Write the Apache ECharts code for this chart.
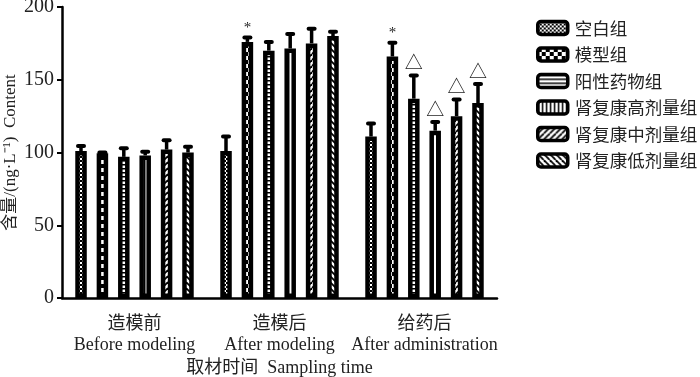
<!DOCTYPE html>
<html>
<head>
<meta charset="utf-8">
<script src="https://cdn.jsdelivr.net/npm/echarts@6/dist/echarts.min.js"></script>
<style>
    html, body { margin: 0; padding: 0; background: #fff; }
    #chart { width: 700px; height: 377px; }
</style>
</head>
<body>
<div id="chart"></div>
<script>
    // data
    var catCn = ['造模前', '造模后', '给药后']
    var catEn = ['Before modeling', 'After modeling', 'After administration']
    var groupNames = ['空白组', '模型组', '阳性药物组', '肾复康高剂量组', '肾复康中剂量组', '肾复康低剂量组']

    var blankMean = [101, 101, 111]
    var modelMean = [99.5, 176, 166]
    var positiveMean = [97, 170, 137]
    var highMean = [98, 171.5, 115]
    var midMean = [102, 175, 125]
    var lowMean = [100, 180, 134]

    var blankErr = [3.5, 10, 9]
    var modelErr = [0.5, 3, 9.5]
    var positiveErr = [6, 6, 16]
    var highErr = [2.5, 10, 6]
    var midErr = [6.5, 10, 11.5]
    var lowErr = [4, 3, 13]

    var blankMark = ['', '', '']
    var modelMark = ['', '*', '*']
    var positiveMark = ['', '', '△']
    var highMark = ['', '', '△']
    var midMark = ['', '', '△']
    var lowMark = ['', '', '△']

    var yTicks = [0, 50, 100, 150, 200]

    var means = [blankMean, modelMean, positiveMean, highMean, midMean, lowMean]
    var errs = [blankErr, modelErr, positiveErr, highErr, midErr, lowErr]
    var marks = [blankMark, modelMark, positiveMark, highMark, midMark, lowMark]

    var serif = '"Times New Roman","Liberation Serif","Noto Sans CJK SC",serif'
    var cjk = '"Noto Sans CJK SC",sans-serif'

    // fill patterns
    function makePattern(kind) {
        var c = document.createElement('canvas')
        var s = 6
        if (kind === 'fine') s = 4
        if (kind === 'checker') s = 8
        if (kind === 'hline' || kind === 'vline') s = 4
        c.width = s
        c.height = s
        var ctx = c.getContext('2d')
        ctx.fillStyle = '#fff'
        ctx.fillRect(0, 0, s, s)
        ctx.fillStyle = '#000'
        ctx.strokeStyle = '#000'
        if (kind === 'fine') {
            ctx.fillRect(0, 0, 2, 2)
            ctx.fillRect(2, 2, 2, 2)
        } else if (kind === 'checker') {
            ctx.fillRect(0, 0, 4, 4)
            ctx.fillRect(4, 4, 4, 4)
        } else if (kind === 'hline') {
            ctx.fillRect(0, 0, s, 1.5)
        } else if (kind === 'vline') {
            ctx.fillRect(0, 0, 1.5, s)
        } else {
            ctx.lineWidth = 1.8
            for (var k = -1; k <= 1; k++) {
                ctx.beginPath()
                if (kind === 'fwd') {
                    ctx.moveTo(k * s, s)
                    ctx.lineTo(k * s + s, 0)
                } else {
                    ctx.moveTo(k * s, 0)
                    ctx.lineTo(k * s + s, s)
                }
                ctx.stroke()
            }
        }
        return { image: c, repeat: 'repeat' }
    }

    var patterns = ['fine', 'checker', 'hline', 'vline', 'fwd', 'back'].map(makePattern)

    var barWidth = 11.5
    var barBorder = 4.5
    var pitch = 21.4

    var series = groupNames.map(function (name, i) {
        return {
            name: name,
            type: 'bar',
            barWidth: barWidth,
            barGap: '86%',
            data: means[i],
            itemStyle: {
                color: patterns[i],
                borderColor: '#000',
                borderWidth: barBorder
            },
            emphasis: { disabled: true },
            animation: false
        }
    })

    var errData = []
    for (var i = 0; i < groupNames.length; i++) {
        for (var j = 0; j < catCn.length; j++) {
            errData.push([j, i, means[i][j], errs[i][j], marks[i][j]])
        }
    }

    series.push({
        type: 'custom',
        data: errData,
        z: 5,
        animation: false,
        renderItem: function (params, api) {
            var cx = api.coord([api.value(0), 0])[0] + (api.value(1) - 2.5) * pitch
            var yBase = api.coord([api.value(0), api.value(2)])[1]
            var yTop = api.coord([api.value(0), api.value(2) + api.value(3)])[1]
            var mark = errData[params.dataIndex][4]
            var children = [
                { type: 'line', shape: { x1: cx, y1: yBase, x2: cx, y2: yTop }, style: { stroke: '#000', lineWidth: 3.5 } },
                { type: 'line', shape: { x1: cx - 3, y1: yTop, x2: cx + 3, y2: yTop }, style: { stroke: '#000', lineWidth: 4, lineCap: 'round' } }
            ]
            if (mark === '*') {
                children.push({ type: 'text', x: cx, y: yTop - 2, style: { text: '*', fontSize: 15, fontFamily: serif, fill: '#222', align: 'center', verticalAlign: 'bottom' } })
            } else if (mark) {
                children.push({ type: 'text', x: cx, y: yTop - 4, style: { text: mark, fontSize: 18, fontFamily: cjk, fill: '#222', align: 'center', verticalAlign: 'bottom' } })
            }
            return { type: 'group', children: children }
        }
    })

    var option = {
        backgroundColor: '#fff',
        animation: false,
        legend: {
            data: groupNames,
            orient: 'vertical',
            left: 531,
            top: 14,
            itemWidth: 30,
            itemHeight: 13,
            itemGap: 8.5,
            icon: 'roundRect',
            selectedMode: false,
            itemStyle: { borderWidth: 3.5, borderColor: '#000' },
            textStyle: { fontFamily: cjk, fontSize: 17.5, lineHeight: 18, color: '#222', padding: [0, 0, 0, 2] }
        },
        grid: { left: 62, right: 203, top: 7, bottom: 79, outerBoundsMode: 'none', containLabel: false },
        xAxis: {
            type: 'category',
            data: catCn,
            name: '取材时间  Sampling time',
            nameLocation: 'middle',
            nameGap: 61,
            nameMoveOverlap: false,
            nameTextStyle: { fontFamily: serif, fontSize: 18, color: '#222' },
            axisLine: { lineStyle: { color: '#000', width: 2.5 } },
            axisTick: { alignWithLabel: true, length: 6, lineStyle: { color: '#000', width: 2 } },
            axisLabel: {
                interval: 0,
                margin: 16,
                fontFamily: serif,
                fontSize: 18,
                lineHeight: 21,
                color: '#222',
                formatter: function (v, idx) { return v + '\n' + catEn[idx] }
            }
        },
        yAxis: {
            type: 'value',
            min: yTicks[0],
            max: yTicks[yTicks.length - 1],
            interval: 50,
            name: '含量/(ng·L⁻¹)  Content',
            nameLocation: 'middle',
            nameGap: 43,
            nameMoveOverlap: false,
            nameTextStyle: { fontFamily: serif, fontSize: 17, color: '#222' },
            splitLine: { show: false },
            axisLine: { show: true, lineStyle: { color: '#000', width: 2.5 } },
            axisTick: { show: true, length: 5, lineStyle: { color: '#000', width: 2 } },
            axisLabel: { margin: 8, fontFamily: serif, fontSize: 20, color: '#222' }
        },
        series: series
    }

    var myChart = echarts.init(document.getElementById('chart'))
    myChart.setOption(option)
</script>
</body>
</html>
